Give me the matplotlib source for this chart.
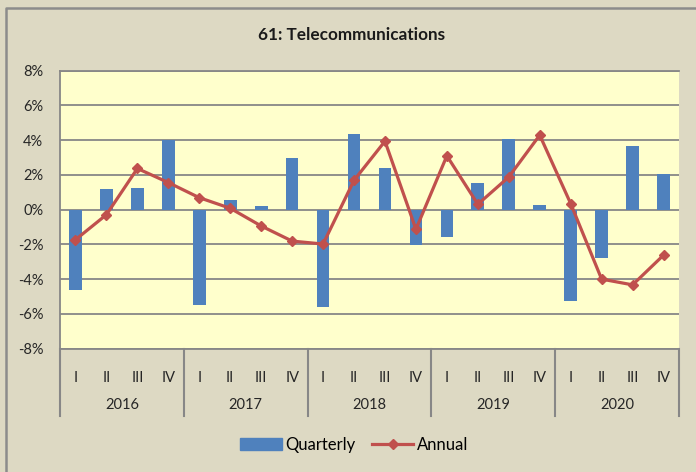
import matplotlib.pyplot as plt
from matplotlib.lines import Line2D
from matplotlib.patches import Patch
from matplotlib.ticker import FuncFormatter
import matplotlib.transforms as mtransforms

years = ["2016", "2017", "2018", "2019", "2020"]
quarters = ["I", "II", "III", "IV"]
# percent change
quarterly = [-4.62, 1.17, 1.25, 4.0, -5.5, 0.58, 0.21, 2.98, -5.62, 4.33,
             2.42, -2.02, -1.6, 1.56, 4.06, 0.25, -5.27, -2.79, 3.67, 2.04]
annual = [-1.73, -0.29, 2.37, 1.56, 0.69, 0.08, -0.94, -1.81, -1.98, 1.69,
          3.94, -1.13, 3.1, 0.31, 1.88, 4.29, 0.35, -4.0, -4.33, -2.62]

plt.rcParams['font.family'] = ['Lato', 'DejaVu Sans']

W, H = 696, 472
bg = "#DDD9C3"
grid_c = "#878787"
fig = plt.figure(figsize=(W / 100, H / 100), dpi=100, facecolor=bg)
ax = fig.add_axes([60 / W, (H - 348.6) / H, 619 / W, 277.9 / H])
ax.set_facecolor("#FFFFCC")

x = list(range(len(quarterly)))
ax.bar(x, quarterly, width=0.41, color="#4F81BD", zorder=2)
ax.plot(x, annual, color="#C0504D", lw=2.3, marker="D", ms=5.5, zorder=3)

ax.set_xlim(-0.5, len(x) - 0.5)
ax.set_ylim(-8, 8)
ax.set_yticks(range(-8, 9, 2))
ax.yaxis.set_major_formatter(FuncFormatter(lambda v, p: f"{v:.0f}%"))
ax.grid(axis="y", color=grid_c, lw=1.3, zorder=1)
ax.set_axisbelow(True)
ax.tick_params(axis="y", length=0, pad=12, labelsize=10.5, colors="#262626")

ax.set_xticks(x)
ax.set_xticklabels(quarters * len(years))
ax.tick_params(axis="x", length=0, pad=16, labelsize=10.5, colors="#262626")

for side in ["left", "bottom", "top"]:
    ax.spines[side].set_color(grid_c)
    ax.spines[side].set_linewidth(1.3)
ax.spines["right"].set_visible(False)

# multi-level category axis: year separators and year labels
trans = mtransforms.blended_transform_factory(ax.transData, ax.transAxes)
for i in range(len(years) + 1):
    ax.add_line(Line2D([i * 4 - 0.5, i * 4 - 0.5], [0, -0.2425], transform=trans,
                       color=grid_c, lw=1.5, clip_on=False))
for i, yr in enumerate(years):
    ax.text(i * 4 + 1.5, -0.203, yr, transform=trans, ha="center", va="center",
            fontsize=10.5, color="#262626")

fig.text(352 / W, 1 - 35 / H, "61: Telecommunications", ha="center", va="center",
         fontsize=12.3, fontweight="bold", color="#1a1a1a")

handles = [Patch(color="#4F81BD"),
           Line2D([], [], color="#C0504D", lw=2.3, marker="D", ms=5.5)]
fig.legend(handles, ["Quarterly", "Annual"], loc="center", ncol=2,
           bbox_to_anchor=(354 / W, 1 - 445 / H), frameon=False, fontsize=12,
           handlelength=2.5, handletextpad=0.2, columnspacing=1.0)

# outer chart border (top and left visible)
fig.add_artist(Line2D([6 / W, 6 / W, 1], [0, 1 - 8 / H, 1 - 8 / H],
                      transform=fig.transFigure, color="#8C8C8C", lw=1.8))

fig.savefig("out.png", dpi=100, facecolor=bg)
